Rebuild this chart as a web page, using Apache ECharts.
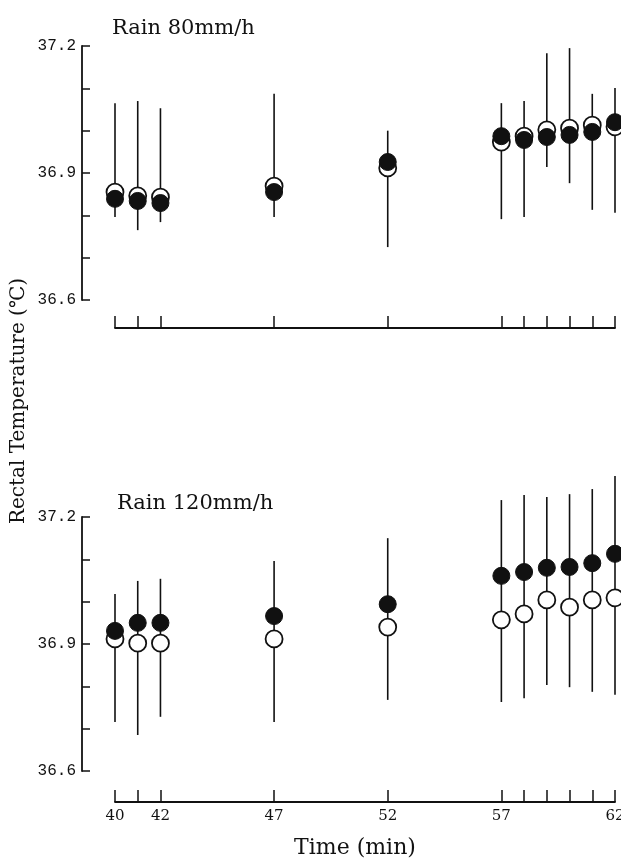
<!DOCTYPE html>
<html>
<head>
<meta charset="utf-8">
<script src="https://cdn.jsdelivr.net/npm/echarts@6/dist/echarts.min.js"></script>
<style>
  html, body { margin: 0; background: #fff; }
  #chart { width: 621px; height: 858px; }
</style>
</head>
<body>
<div id="chart"></div>
<script>
// time points (min)
const times = [40, 41, 42, 47, 52, 57, 58, 59, 60, 61, 62];
const labelTimes = [40, 42, 47, 52, 57, 62];

// Rain 80 mm/h
const open80 = [36.855, 36.846, 36.843, 36.869, 36.912, 36.973, 36.987, 37.002, 37.006, 37.013, 37.009];
const filled80 = [36.839, 36.834, 36.829, 36.855, 36.926, 36.987, 36.978, 36.985, 36.990, 36.997, 37.020];
const barTop80 = [37.065, 37.070, 37.053, 37.087, 37.000, 37.065, 37.070, 37.183, 37.195, 37.087, 37.101];
const barBottom80 = [36.796, 36.765, 36.784, 36.796, 36.725, 36.791, 36.796, 36.914, 36.876, 36.813, 36.806];

// Rain 120 mm/h
const open120 = [36.912, 36.902, 36.902, 36.912, 36.940, 36.957, 36.971, 37.004, 36.987, 37.004, 37.009];
const filled120 = [36.931, 36.950, 36.950, 36.966, 36.994, 37.061, 37.070, 37.080, 37.082, 37.091, 37.113];
const barTop120 = [37.018, 37.049, 37.054, 37.096, 37.150, 37.240, 37.252, 37.247, 37.254, 37.266, 37.297];
const barBottom120 = [36.716, 36.685, 36.728, 36.716, 36.768, 36.763, 36.772, 36.803, 36.798, 36.787, 36.780];

const ink = '#111';
const serif = 'DejaVu Serif';

const chart = echarts.init(document.getElementById('chart'));

const makeX = (idx, withLabels) => ({
  gridIndex: idx,
  type: 'value',
  min: 40,
  max: 62,
  offset: idx === 0 ? 28 : 31,
  axisLine: { show: true, lineStyle: { color: ink, width: 1.8 } },
  axisTick: { show: true, inside: true, length: 12, customValues: times, lineStyle: { color: ink, width: 1.5 } },
  axisLabel: withLabels
    ? { show: true, customValues: labelTimes, color: ink, fontFamily: serif, fontSize: 15, margin: 7 }
    : { show: false },
  splitLine: { show: false }
});

const makeY = (idx) => ({
  gridIndex: idx,
  type: 'value',
  min: 36.6,
  max: 37.2,
  interval: 0.3,
  offset: 33,
  axisLine: { show: true, lineStyle: { color: ink, width: 1.8 } },
  axisTick: { show: true, inside: true, length: 8, lineStyle: { color: ink, width: 1.5 } },
  minorTick: { show: true, splitNumber: 3, length: 8, lineStyle: { color: ink, width: 1.5 } },
  axisLabel: { color: ink, fontFamily: 'Liberation Mono', fontSize: 16, margin: 6, formatter: v => v.toFixed(1) },
  splitLine: { show: false },
  minorSplitLine: { show: false }
});

const errorSeries = (idx, lows, highs) => ({
  type: 'custom',
  xAxisIndex: idx,
  yAxisIndex: idx,
  clip: false,
  z: 1,
  data: times.map((t, i) => [t, lows[i], highs[i]]),
  encode: { x: 0, y: [1, 2] },
  renderItem: (params, api) => {
    const p1 = api.coord([api.value(0), api.value(1)]);
    const p2 = api.coord([api.value(0), api.value(2)]);
    return {
      type: 'line',
      shape: { x1: p1[0], y1: p1[1], x2: p2[0], y2: p2[1] },
      style: { stroke: ink, lineWidth: 1.6 }
    };
  }
});

const dotSeries = (idx, values, filled) => ({
  type: 'scatter',
  xAxisIndex: idx,
  yAxisIndex: idx,
  z: filled ? 3 : 2,
  symbol: 'circle',
  symbolSize: 17,
  itemStyle: filled
    ? { color: ink, borderColor: ink, borderWidth: 1, opacity: 1 }
    : { color: '#fff', borderColor: ink, borderWidth: 1.8, opacity: 1 },
  data: times.map((t, i) => [t, values[i]])
});

const option = {
  animation: false,
  backgroundColor: '#fff',
  title: [
    { text: 'Rain 80mm/h', left: 107, top: 13, textStyle: { fontFamily: serif, fontSize: 21, fontWeight: 'normal', color: ink } },
    { text: 'Rain 120mm/h', left: 112, top: 488, textStyle: { fontFamily: serif, fontSize: 21, fontWeight: 'normal', color: ink } }
  ],
  grid: [
    { left: 115, right: 6, top: 46, height: 254, outerBoundsMode: 'none' },
    { left: 115, right: 6, top: 517, height: 254, outerBoundsMode: 'none' }
  ],
  xAxis: [makeX(0, false), makeX(1, true)],
  yAxis: [makeY(0), makeY(1)],
  graphic: [
    {
      type: 'text',
      x: 19, y: 401,
      rotation: Math.PI / 2,
      style: {
        text: 'Rectal Temperature (\u2103)',
        fontFamily: serif, fontSize: 20, fill: ink,
        textAlign: 'center', textVerticalAlign: 'middle'
      }
    },
    {
      type: 'text',
      x: 355, y: 848,
      style: {
        text: 'Time (min)',
        fontFamily: serif, fontSize: 22, fill: ink,
        textAlign: 'center', textVerticalAlign: 'middle'
      }
    }
  ],
  series: [
    errorSeries(0, barBottom80, barTop80),
    dotSeries(0, open80, false),
    dotSeries(0, filled80, true),
    errorSeries(1, barBottom120, barTop120),
    dotSeries(1, open120, false),
    dotSeries(1, filled120, true)
  ]
};

chart.setOption(option);
</script>
</body>
</html>
